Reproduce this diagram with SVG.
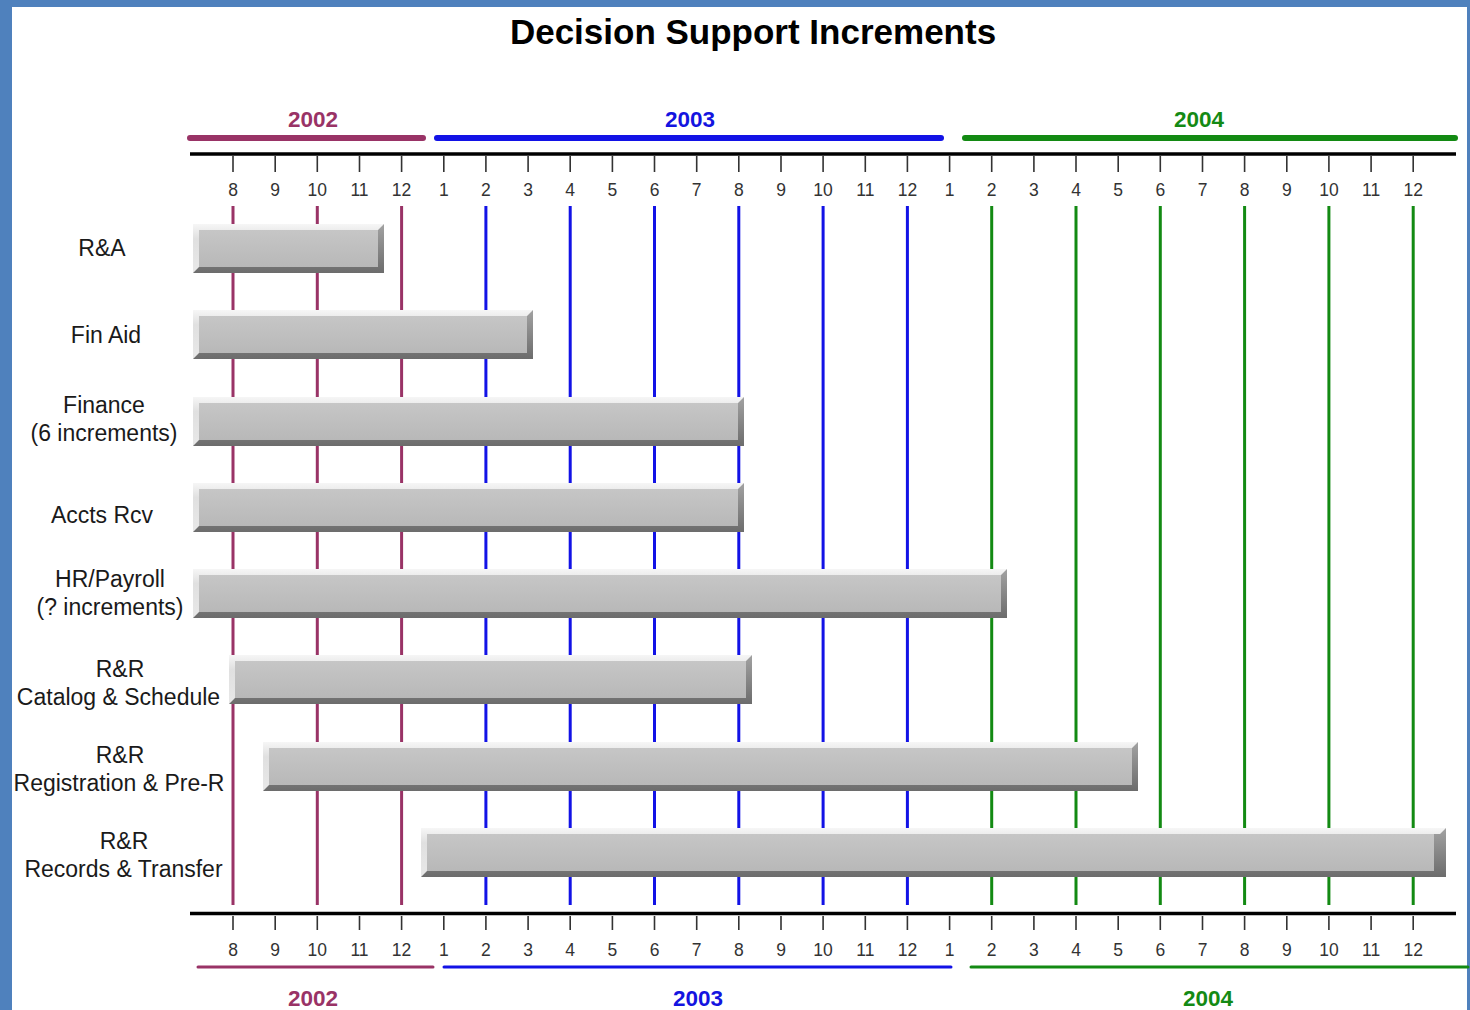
<svg xmlns="http://www.w3.org/2000/svg" width="1470" height="1010" viewBox="0 0 1470 1010">
  <defs>
    <linearGradient id="gDark" x1="0" y1="0" x2="0" y2="1">
      <stop offset="0" stop-color="#a2a2a2"/>
      <stop offset="1" stop-color="#6c6c6c"/>
    </linearGradient>
    <linearGradient id="gLight" x1="0" y1="0" x2="0" y2="1">
      <stop offset="0" stop-color="#f6f6f6"/>
      <stop offset="0.3" stop-color="#e0e0e0"/>
      <stop offset="1" stop-color="#e8e8e8"/>
    </linearGradient>
    <linearGradient id="gFace" x1="0" y1="0" x2="0" y2="1">
      <stop offset="0" stop-color="#c6c6c6"/>
      <stop offset="1" stop-color="#b8b8b8"/>
    </linearGradient>
  </defs>
  <style>
    text { font-family: "Liberation Sans", Arial, sans-serif; }
    .title { font-size: 35px; font-weight: bold; fill: #000; text-anchor: middle; }
    .yr { font-size: 22.5px; font-weight: bold; text-anchor: middle; }
    .mo { font-size: 17.5px; fill: #333; text-anchor: middle; }
    .lbl { font-size: 23px; fill: #1a1a1a; text-anchor: middle; }
    .c02 { fill: #993366; }
    .c03 { fill: #1414e0; }
    .c04 { fill: #148a14; }
    .axis { stroke: #000; stroke-width: 3.5; fill: none; }
    .tick { stroke: #333; stroke-width: 1.6; fill: none; }
    .grid { stroke-width: 3; fill: none; }
    .s02 { stroke: #993366; }
    .s03 { stroke: #1212e6; }
    .s04 { stroke: #138a13; }
    .yrbar { stroke-width: 6; stroke-linecap: round; fill: none; }
    .yrline { stroke-width: 3; stroke-linecap: round; fill: none; }
    .dark { fill: url(#gDark); }
    .light { fill: url(#gLight); }
    .face { fill: url(#gFace); }
  </style>

  <!-- frame -->
  <rect x="0" y="0" width="1470" height="1010" fill="#4f81bd"/>
  <rect x="12" y="7" width="1455" height="1010" fill="#ffffff"/>

  <text class="title" x="753" y="44">Decision Support Increments</text>

  <!-- top time axis -->
  <g id="axis-top">
    <line class="yrbar s02" x1="190" y1="138" x2="423" y2="138"/>
    <line class="yrbar s03" x1="437" y1="138" x2="941" y2="138"/>
    <line class="yrbar s04" x1="965" y1="138" x2="1455" y2="138"/>
    <text class="yr c02" x="313" y="127">2002</text>
    <text class="yr c03" x="690" y="127">2003</text>
    <text class="yr c04" x="1199" y="127">2004</text>
    <line class="axis" x1="190" y1="154" x2="1456" y2="154"/>
    <path class="tick" d="M233 156V172M275.2 156V172M317.3 156V172M359.5 156V172M401.6 156V172M443.8 156V172M485.9 156V172M528.1 156V172M570.2 156V172M612.4 156V172M654.5 156V172M696.7 156V172M738.8 156V172M781 156V172M823.1 156V172M865.3 156V172M907.4 156V172M949.6 156V172M991.7 156V172M1033.9 156V172M1076 156V172M1118.2 156V172M1160.3 156V172M1202.5 156V172M1244.6 156V172M1286.8 156V172M1328.9 156V172M1371.1 156V172M1413.2 156V172"/>
    <g class="mo">
      <text x="233" y="196">8</text><text x="275.2" y="196">9</text><text x="317.3" y="196">10</text><text x="359.5" y="196">11</text><text x="401.6" y="196">12</text>
      <text x="443.8" y="196">1</text><text x="485.9" y="196">2</text><text x="528.1" y="196">3</text><text x="570.2" y="196">4</text><text x="612.4" y="196">5</text><text x="654.5" y="196">6</text><text x="696.7" y="196">7</text><text x="738.8" y="196">8</text><text x="781" y="196">9</text><text x="823.1" y="196">10</text><text x="865.3" y="196">11</text><text x="907.4" y="196">12</text>
      <text x="949.6" y="196">1</text><text x="991.7" y="196">2</text><text x="1033.9" y="196">3</text><text x="1076" y="196">4</text><text x="1118.2" y="196">5</text><text x="1160.3" y="196">6</text><text x="1202.5" y="196">7</text><text x="1244.6" y="196">8</text><text x="1286.8" y="196">9</text><text x="1328.9" y="196">10</text><text x="1371.1" y="196">11</text><text x="1413.2" y="196">12</text>
    </g>
  </g>

  <!-- bottom time axis -->
  <g id="axis-bottom">
    <line class="axis" x1="190" y1="913.5" x2="1456" y2="913.5"/>
    <path class="tick" d="M233 916V930M275.2 916V930M317.3 916V930M359.5 916V930M401.6 916V930M443.8 916V930M485.9 916V930M528.1 916V930M570.2 916V930M612.4 916V930M654.5 916V930M696.7 916V930M738.8 916V930M781 916V930M823.1 916V930M865.3 916V930M907.4 916V930M949.6 916V930M991.7 916V930M1033.9 916V930M1076 916V930M1118.2 916V930M1160.3 916V930M1202.5 916V930M1244.6 916V930M1286.8 916V930M1328.9 916V930M1371.1 916V930M1413.2 916V930"/>
    <g class="mo">
      <text x="233" y="956">8</text><text x="275.2" y="956">9</text><text x="317.3" y="956">10</text><text x="359.5" y="956">11</text><text x="401.6" y="956">12</text>
      <text x="443.8" y="956">1</text><text x="485.9" y="956">2</text><text x="528.1" y="956">3</text><text x="570.2" y="956">4</text><text x="612.4" y="956">5</text><text x="654.5" y="956">6</text><text x="696.7" y="956">7</text><text x="738.8" y="956">8</text><text x="781" y="956">9</text><text x="823.1" y="956">10</text><text x="865.3" y="956">11</text><text x="907.4" y="956">12</text>
      <text x="949.6" y="956">1</text><text x="991.7" y="956">2</text><text x="1033.9" y="956">3</text><text x="1076" y="956">4</text><text x="1118.2" y="956">5</text><text x="1160.3" y="956">6</text><text x="1202.5" y="956">7</text><text x="1244.6" y="956">8</text><text x="1286.8" y="956">9</text><text x="1328.9" y="956">10</text><text x="1371.1" y="956">11</text><text x="1413.2" y="956">12</text>
    </g>
    <line class="yrline s02" x1="198" y1="967" x2="433" y2="967"/>
    <line class="yrline s03" x1="444" y1="967" x2="951" y2="967"/>
    <line class="yrline s04" x1="971" y1="967" x2="1468" y2="967"/>
    <text class="yr c02" x="313" y="1006">2002</text>
    <text class="yr c03" x="698" y="1006">2003</text>
    <text class="yr c04" x="1208" y="1006">2004</text>
  </g>

  <!-- month grid lines -->
  <g id="connectors">
    <path class="grid s02" d="M233 206V905M317.3 206V905M401.6 206V905"/>
    <path class="grid s03" d="M485.9 206V905M570.2 206V905M654.5 206V905M738.8 206V905M823.1 206V905M907.4 206V905"/>
    <path class="grid s04" d="M991.7 206V905M1076 206V905M1160.3 206V905M1244.6 206V905M1328.9 206V905M1413.2 206V905"/>
  </g>

  <!-- increments -->
  <g id="ra">
    <rect class="dark" x="193" y="224" width="191" height="49"/>
    <polygon class="light" points="193,224 384,224 378,230 199,230 199,267 193,273"/>
    <rect class="face" x="199" y="230" width="179" height="37"/>
    <text class="lbl" x="102" y="256">R&amp;A</text>
  </g>
  <g id="fin-aid">
    <rect class="dark" x="193" y="310" width="340" height="49"/>
    <polygon class="light" points="193,310 533,310 527,316 199,316 199,353 193,359"/>
    <rect class="face" x="199" y="316" width="328" height="37"/>
    <text class="lbl" x="106" y="343">Fin Aid</text>
  </g>
  <g id="finance">
    <rect class="dark" x="193" y="397" width="551" height="49"/>
    <polygon class="light" points="193,397 744,397 738,403 199,403 199,440 193,446"/>
    <rect class="face" x="199" y="403" width="539" height="37"/>
    <text class="lbl" x="104" y="413">Finance</text>
    <text class="lbl" x="104" y="441">(6 increments)</text>
  </g>
  <g id="accts-rcv">
    <rect class="dark" x="193" y="483" width="551" height="49"/>
    <polygon class="light" points="193,483 744,483 738,489 199,489 199,526 193,532"/>
    <rect class="face" x="199" y="489" width="539" height="37"/>
    <text class="lbl" x="102" y="523">Accts Rcv</text>
  </g>
  <g id="hr-payroll">
    <rect class="dark" x="193" y="569" width="814" height="49"/>
    <polygon class="light" points="193,569 1007,569 1001,575 199,575 199,612 193,618"/>
    <rect class="face" x="199" y="575" width="802" height="37"/>
    <text class="lbl" x="110" y="587">HR/Payroll</text>
    <text class="lbl" x="110" y="615">(? increments)</text>
  </g>
  <g id="rr-catalog">
    <rect class="dark" x="229" y="655" width="523" height="49"/>
    <polygon class="light" points="229,655 752,655 746,661 235,661 235,698 229,704"/>
    <rect class="face" x="235" y="661" width="511" height="37"/>
    <text class="lbl" x="120" y="677">R&amp;R</text>
    <text class="lbl" x="118.5" y="705">Catalog &amp; Schedule</text>
  </g>
  <g id="rr-registration">
    <rect class="dark" x="263" y="742" width="875" height="49"/>
    <polygon class="light" points="263,742 1138,742 1132,748 269,748 269,785 263,791"/>
    <rect class="face" x="269" y="748" width="863" height="37"/>
    <text class="lbl" x="120" y="763">R&amp;R</text>
    <text class="lbl" x="119" y="791">Registration &amp; Pre-R</text>
  </g>
  <g id="rr-records">
    <rect class="dark" x="421" y="828" width="1025" height="49"/>
    <polygon class="light" points="421,828 1446,828 1440,834 427,834 427,871 421,877"/>
    <rect class="face" x="427" y="834" width="1007" height="37"/>
    <text class="lbl" x="124" y="849">R&amp;R</text>
    <text class="lbl" x="123.5" y="877">Records &amp; Transfer</text>
  </g>
</svg>
